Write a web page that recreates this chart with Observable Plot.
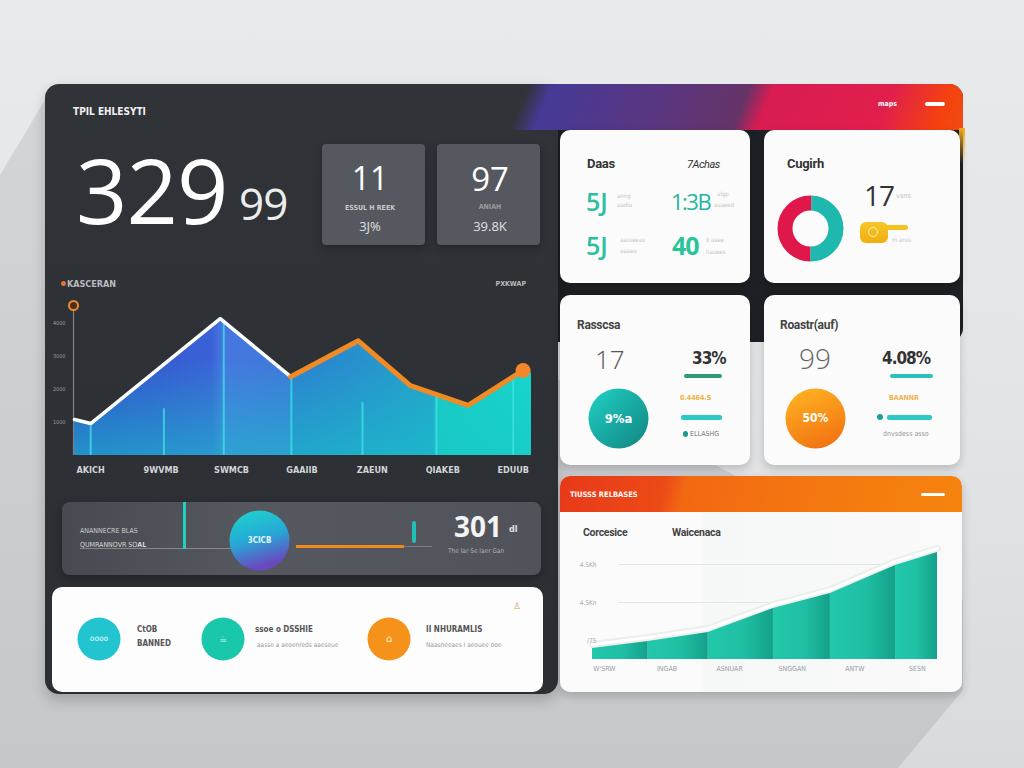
<!DOCTYPE html>
<html><head><meta charset="utf-8">
<script src="https://cdn.jsdelivr.net/npm/d3@7"></script>
<script src="https://cdn.jsdelivr.net/npm/@observablehq/plot@0.6"></script>
<style>
html,body{margin:0;padding:0;}
body{width:1024px;height:768px;overflow:hidden;position:relative;background:linear-gradient(180deg,#e9eaec 0%,#e3e4e6 55%,#d9dadc 100%);font-family:"Open Sans","Noto Sans",sans-serif;}
.abs{position:absolute;}
.t{position:absolute;line-height:1;white-space:nowrap;transform:translateY(-50%);}
.c{transform:translate(-50%,-50%);}
.r{transform:translate(-100%,-50%);}
.cond{font-family:"DejaVu Sans Condensed","Liberation Sans Narrow",Roboto,sans-serif;font-weight:bold;font-stretch:condensed;}
.rob{font-family:Roboto,"Noto Sans",sans-serif;}
.card{position:absolute;background:#fbfbfb;border-radius:10px;box-shadow:0 4px 10px rgba(0,0,0,0.18);}
.bar{position:absolute;border-radius:2px;}
.tiny{font-family:"DejaVu Sans Condensed",Roboto,sans-serif;font-size:6px;color:#c3c3c3;}
</style></head><body>
<svg width="0" height="0" style="position:absolute">
<defs>
 <linearGradient id="mainGrad" x1="0" y1="0" x2="1" y2="0">
  <stop offset="0" stop-color="#2e4fc9"/>
  <stop offset="0.30" stop-color="#3a62d6"/>
  <stop offset="0.326" stop-color="#4677df"/>
  <stop offset="0.47" stop-color="#3f78da"/>
  <stop offset="0.476" stop-color="#2c80d0"/>
  <stop offset="0.785" stop-color="#22a2cb"/>
  <stop offset="0.795" stop-color="#19cbc6"/>
  <stop offset="1" stop-color="#17d6ca"/>
 </linearGradient>
 <linearGradient id="mainShade" x1="0" y1="0" x2="0" y2="1">
  <stop offset="0.3" stop-color="#19c6c8" stop-opacity="0"/>
  <stop offset="1" stop-color="#19c6c8" stop-opacity="0.55"/>
 </linearGradient>
 <linearGradient id="segGrad" x1="0" y1="0" x2="1" y2="0">
  <stop offset="0" stop-color="#22c8ab"/>
  <stop offset="0.55" stop-color="#1fbfa4"/>
  <stop offset="1" stop-color="#14a08a"/>
 </linearGradient>
 <linearGradient id="gTealPurple" x1="0" y1="0" x2="0.3" y2="1">
  <stop offset="0" stop-color="#1ed6cc"/>
  <stop offset="0.55" stop-color="#26a8d6"/>
  <stop offset="1" stop-color="#6a48c0"/>
 </linearGradient>
 <linearGradient id="gTeal" x1="0" y1="0" x2="1" y2="1">
  <stop offset="0" stop-color="#22d2c6"/>
  <stop offset="0.5" stop-color="#18aaa2"/>
  <stop offset="1" stop-color="#108680"/>
 </linearGradient>
 <linearGradient id="gOrange" x1="0.2" y1="0" x2="0.6" y2="1">
  <stop offset="0" stop-color="#ffb222"/>
  <stop offset="1" stop-color="#f27412"/>
 </linearGradient>
</defs></svg>

<!-- background shadow -->
<div class="abs" style="left:0;top:0;width:1024px;height:768px;background:linear-gradient(180deg,#d6d7da,#c6c7ca);clip-path:polygon(45px 100px,0 175px,0 768px,898px 768px,963px 690px,963px 600px);"></div>

<!-- dark panels -->
<div class="abs" style="left:500px;top:84px;width:463px;height:258px;border-radius:14px;background:#1d2024;"></div>
<div class="abs" style="left:45px;top:84px;width:513px;height:610px;border-radius:14px;background:linear-gradient(180deg,#303338,#2b2e32);box-shadow:0 6px 14px rgba(0,0,0,0.2);"></div>
<div class="abs" style="left:500px;top:84px;width:463px;height:46px;border-top-right-radius:14px;background:linear-gradient(112deg,#303338 0%,#303338 6%,#463a96 11%,#5a3680 35%,#653467 52%,#d81c52 57%,#e11f4c 82%,#f3420f 94%,#f24a12 100%);"></div>
<div class="abs" style="left:959px;top:128px;width:6px;height:36px;background:linear-gradient(180deg,#f2a81a,rgba(242,168,26,0));"></div>
<div class="t cond" style="left:878px;top:104px;font-size:7px;color:#fff;">maps</div>
<div class="bar" style="left:925px;top:102px;width:20px;height:4px;background:#fff;"></div>

<!-- left panel header -->
<div class="t cond" style="left:73px;top:112px;font-size:10px;color:#f0f0f0;">TPIL EHLESYTI</div>
<div class="t" style="left:76px;top:189px;font-size:90px;font-weight:500;color:#fff;letter-spacing:-1px;">329</div>
<div class="t" style="left:239px;top:203px;font-size:44px;font-weight:400;color:#ececec;letter-spacing:-1px;">99</div>

<div class="abs" style="left:322px;top:144px;width:103px;height:101px;border-radius:4px;background:#55585e;box-shadow:0 3px 8px rgba(0,0,0,0.25);"></div>
<div class="abs" style="left:437px;top:144px;width:103px;height:101px;border-radius:4px;background:#55585e;box-shadow:0 3px 8px rgba(0,0,0,0.25);"></div>
<div class="t c" style="left:370px;top:178px;font-size:32px;font-weight:500;color:#fff;">11</div>
<div class="t c cond" style="left:370px;top:208px;font-size:7px;color:#c8c8c8;">ESSUL H REEK</div>
<div class="t c" style="left:370px;top:226px;font-size:13px;color:#e0e0e0;">3J%</div>
<div class="t c" style="left:490px;top:178px;font-size:33px;font-weight:500;color:#fff;">97</div>
<div class="t c cond" style="left:490px;top:207px;font-size:7px;color:#9a9ca0;">ANIAH</div>
<div class="t c" style="left:490px;top:226px;font-size:13px;color:#e0e0e0;">39.8K</div>

<!-- chart header -->
<div class="abs" style="left:61px;top:281px;width:5px;height:5px;border-radius:50%;background:#e8742a;"></div>
<div class="t cond" style="left:67px;top:284px;font-size:9px;color:#b8babe;">KASCERAN</div>
<div class="t r cond" style="left:526px;top:284px;font-size:7px;color:#b8babe;">PXKWAP</div>
<div id="mainChart" class="abs" style="left:40px;top:290px;"></div>

<!-- row panel -->
<div class="abs" style="left:62px;top:502px;width:479px;height:73px;border-radius:8px;background:linear-gradient(90deg,#474a50,#55585e 40%,#505359);box-shadow:0 3px 8px rgba(0,0,0,0.25);"></div>
<div class="t cond" style="left:80px;top:531px;font-size:7px;color:#cfcfcf;font-weight:normal;">ANANNECRE BLAS</div>
<div class="t cond" style="left:80px;top:545px;font-size:7px;color:#d8d8d8;font-weight:normal;">QUMRANNOVR SO<b>AL</b></div>
<div class="abs" style="left:80px;top:548px;width:152px;height:1px;background:#85888d;"></div>
<div class="abs" style="left:183px;top:502px;width:3px;height:47px;background:#22d0c2;"></div>
<div class="abs" style="left:296px;top:545px;width:108px;height:3px;background:#f08a1c;"></div>
<div class="abs" style="left:404px;top:546px;width:28px;height:1px;background:#7c7f84;"></div>
<div class="abs" style="left:412px;top:521px;width:4px;height:22px;border-radius:2px;background:#20c0b8;"></div>
<div class="t" style="left:454px;top:526px;font-size:28px;font-weight:700;color:#f4f4f4;">301</div>
<div class="t cond" style="left:509px;top:529px;font-size:9px;color:#e0e0e0;">dl</div>
<div class="t cond" style="left:448px;top:551px;font-size:6.5px;color:#b0b2b6;font-weight:normal;">The lar Se laer Gan</div>

<!-- white panel -->
<div class="abs" style="left:52px;top:587px;width:491px;height:105px;border-radius:10px;background:#fdfdfd;"></div>
<div class="t cond" style="left:137px;top:630px;font-size:8px;color:#555;">CtOB</div>
<div class="t cond" style="left:137px;top:644px;font-size:8px;color:#555;">BANNED</div>
<div class="t cond" style="left:255px;top:630px;font-size:8px;color:#555;">ssoe o DSSHIE</div>
<div class="t cond" style="left:257px;top:645px;font-size:6.5px;color:#999;font-weight:normal;">aasse a aeoenreds aaeseue</div>
<div class="t cond" style="left:426px;top:630px;font-size:8px;color:#555;">II NHURAMLIS</div>
<div class="t cond" style="left:426px;top:645px;font-size:6.5px;color:#999;font-weight:normal;">Naasneeaes I aeouee ooe</div>
<div class="t c" style="left:517px;top:605px;font-size:9px;color:#d9a040;">♙</div>

<!-- right cards -->
<div class="card" style="left:560px;top:130px;width:190px;height:153px;"></div>
<div class="card" style="left:764px;top:130px;width:196px;height:153px;"></div>
<div class="card" style="left:560px;top:295px;width:190px;height:170px;"></div>
<div class="card" style="left:764px;top:295px;width:196px;height:170px;"></div>

<div class="t rob" style="left:587px;top:163px;font-size:13px;font-weight:700;color:#333;letter-spacing:-0.3px;">Daas</div>
<div class="t rob" style="left:687px;top:164px;font-size:11px;font-style:italic;color:#333;letter-spacing:-0.5px;">7Achas</div>
<div class="t" style="left:586px;top:201px;font-size:25px;font-weight:600;color:#2cc0a0;">5J</div>
<div class="t tiny" style="left:617px;top:196px;">anng</div>
<div class="t tiny" style="left:617px;top:205px;">uadiu</div>
<div class="t" style="left:671px;top:201px;font-size:22px;font-weight:400;color:#1fb7a0;letter-spacing:-1.5px;">1:3B</div>
<div class="t tiny" style="left:717px;top:194px;">ulgp</div>
<div class="t tiny" style="left:714px;top:205px;">auaeed</div>
<div class="t" style="left:586px;top:245px;font-size:25px;font-weight:600;color:#2cc0a0;">5J</div>
<div class="t tiny" style="left:620px;top:240px;">aasseeas</div>
<div class="t tiny" style="left:620px;top:251px;">aaaeu</div>
<div class="t" style="left:672px;top:245px;font-size:25px;font-weight:700;color:#2bc49a;letter-spacing:-1px;">40</div>
<div class="t tiny" style="left:706px;top:240px;">II aaee</div>
<div class="t tiny" style="left:706px;top:252px;">hauees</div>

<div class="t rob" style="left:787px;top:163px;font-size:13px;font-weight:700;color:#333;letter-spacing:-0.3px;">Cugirh</div>
<div class="t" style="left:864px;top:195px;font-size:28px;font-weight:400;color:#333;letter-spacing:-1px;">17</div>
<div class="t tiny" style="left:896px;top:196px;font-size:7px;">vans</div>
<div class="abs" style="left:886px;top:225px;width:22px;height:5px;border-radius:3px;background:#f4c21c;"></div>
<div class="abs" style="left:860px;top:222px;width:28px;height:21px;border-radius:6px;background:linear-gradient(180deg,#f6c628,#f0ae10);"></div>
<div class="abs" style="left:868px;top:227px;width:8px;height:8px;border-radius:50%;border:1.5px solid #fff3c0;"></div>
<div class="t tiny" style="left:892px;top:240px;">m anss</div>

<div class="t rob" style="left:577px;top:325px;font-size:12px;font-weight:700;color:#444;letter-spacing:-0.3px;">Rasscsa</div>
<div class="t" style="left:595px;top:359px;font-size:26px;font-weight:300;color:#555;">17</div>
<div class="t cond" style="left:692px;top:358px;font-size:17px;color:#333;letter-spacing:-1px;">33%</div>
<div class="bar" style="left:684px;top:374px;width:38px;height:4px;background:#2d9a78;"></div>
<div class="t cond" style="left:680px;top:398px;font-size:7px;color:#f0b040;">0.4464.S</div>
<div class="bar" style="left:681px;top:415px;width:41px;height:5px;background:#2cc8c4;"></div>
<div class="abs" style="left:683px;top:431px;width:5px;height:6px;border-radius:50%;background:#1a9a8a;"></div>
<div class="t cond" style="left:690px;top:434px;font-size:7px;color:#777;font-weight:normal;">ELLASHG</div>

<div class="t rob" style="left:780px;top:325px;font-size:12px;font-weight:700;color:#444;letter-spacing:-0.3px;">Roastr(auf)</div>
<div class="t" style="left:799px;top:358px;font-size:28px;font-weight:300;color:#666;">99</div>
<div class="t cond" style="left:882px;top:358px;font-size:17px;color:#333;letter-spacing:-1px;">4.08%</div>
<div class="bar" style="left:890px;top:374px;width:43px;height:4px;background:#2bbfbb;"></div>
<div class="t cond" style="left:889px;top:398px;font-size:7px;color:#f0b050;">BAANNR</div>
<div class="abs" style="left:877px;top:414px;width:6px;height:6px;border-radius:50%;background:#1aa09a;"></div>
<div class="bar" style="left:887px;top:415px;width:45px;height:5px;background:#2cc8c4;"></div>
<div class="t cond" style="left:883px;top:434px;font-size:7px;color:#999;font-weight:normal;">dnvsdess asso</div>

<!-- bottom right card -->
<div class="abs" style="left:560px;top:476px;width:402px;height:216px;border-radius:10px;background:linear-gradient(90deg,#fbfbfb 35%,#f6f7f7 36%,#fafafa);box-shadow:0 4px 10px rgba(0,0,0,0.18);overflow:hidden;">
 <div class="abs" style="left:0;top:0;width:402px;height:36px;background:linear-gradient(104deg,#e8391a 0%,#ec4a16 26%,#f26812 31%,#f47a10 70%,#f6840e 100%);"></div>
</div>
<div class="t cond" style="left:570px;top:495px;font-size:7.5px;color:#fff;">TIUSSS RELBASES</div>
<div class="bar" style="left:921px;top:493px;width:24px;height:3px;background:#fff;"></div>
<div class="t rob" style="left:583px;top:533px;font-size:10.5px;font-weight:700;color:#444;letter-spacing:-0.3px;">Corcesice</div>
<div class="t rob" style="left:672px;top:533px;font-size:10.5px;font-weight:700;color:#444;letter-spacing:-0.3px;">Waicenaca</div>
<div id="brChart" class="abs" style="left:560px;top:540px;"></div>

<script>
// ---------- data ----------
const mainX = [-0.23, 0, 1.84, 2.84, 3.8, 4.54, 5.36, 6.14];
const mainY = [1090, 970, 4150, 2390, 3480, 2120, 1520, 2580];
const mainAreaX = [-0.23, 0, 1.84, 2.84, 3.8, 4.54, 5.36, 6.14, 6.26];
const mainAreaY = [1090, 970, 4150, 2390, 3480, 2120, 1520, 2580, 2500];
const mainXLabels = ["AKICH", "9WVMB", "SWMCB", "GAAIIB", "ZAEUN", "QIAKEB", "EDUUB"];
const mainYTicks = [1000, 2000, 3000, 4000];
const sepX = [0, 1.04, 1.89, 2.85, 3.86, 4.91, 6.0];
const sepTop = [970, 1420, 4060, 2390, 1600, 1850, 2390];

const brX = [-0.19, 0.70, 1.66, 2.70, 3.61, 4.65, 5.32];
const brY = [5.8, 9.5, 14.2, 26.8, 34.7, 49.5, 56.3];
const brXLabels = ["W'SRW", "INGAB", "ASNUAR", "SNGGAN", "ANTW", "SESN"];
const brYTicks = [10, 30, 50];
const brYLabels = ["/75", "4.5Kn", "4.5Kh"];

const donutShares = [50, 50];
const badgeLabels = ["3CICB", "9%a", "50%", "OOOO", "☕", "⌂"];

// ---------- helpers ----------
function place(el, left, top) {
  el.style.position = "absolute";
  el.style.left = left + "px";
  el.style.top = top + "px";
  document.body.appendChild(el);
}

// ---------- main area chart ----------
const mainXDomain = [mainAreaX[0], mainAreaX[mainAreaX.length - 1]];
const mainYDomain = [0, 4550];
const mainPts = mainX.map((x, i) => ({x, y: mainY[i], i}));
const mainArea = mainAreaX.map((x, i) => ({x, y: mainAreaY[i]}));
const seps = sepX.map((x, i) => ({x, top: sepTop[i]}));
const mainPlot = Plot.plot({
  width: 510, height: 190,
  marginLeft: 34, marginRight: 19, marginTop: 15, marginBottom: 25,
  style: {background: "transparent", overflow: "visible", fontFamily: "'DejaVu Sans Condensed', Roboto, sans-serif"},
  x: {domain: mainXDomain, axis: null},
  y: {domain: mainYDomain, axis: null},
  marks: [
    Plot.areaY(mainArea, {x: "x", y1: () => 0, y2: "y", fill: "url(#mainGrad)"}),
    Plot.areaY(mainArea, {x: "x", y1: () => 0, y2: "y", fill: "url(#mainShade)"}),
    Plot.ruleX(seps, {x: "x", y1: () => 0, y2: "top", stroke: "#3fe3e6", strokeWidth: 2, strokeOpacity: 0.75}),
    Plot.ruleX([mainXDomain[0]], {x: d => d, y1: () => 0, y2: () => mainYDomain[1], stroke: "#7d8086", strokeWidth: 1.2, dx: -1}),
    Plot.line(mainPts.filter(d => d.i <= 3), {x: "x", y: "y", stroke: "#ffffff", strokeWidth: 3.5, strokeLinejoin: "round"}),
    Plot.line(mainPts.filter(d => d.i >= 3), {x: "x", y: "y", stroke: "#f08a24", strokeWidth: 5, strokeLinejoin: "round", strokeLinecap: "round"}),
    Plot.dot(mainPts.slice(-1), {x: "x", y: "y", r: 7.5, fill: "#f5862a"}),
    Plot.dot([mainYDomain[1]], {x: () => mainXDomain[0], y: d => d, r: 4.5, fill: "#4a2e1c", stroke: "#f08a2c", strokeWidth: 2, dx: -1}),
    Plot.text(mainYTicks, {x: () => mainXDomain[0], y: d => d, text: d => d3.format("d")(d), textAnchor: "end", dx: -9, fontSize: 5.5, fill: "#9a9da2"}),
    Plot.text(mainXLabels, {x: (d, i) => i, y: () => 0, text: d => d, dy: 15, fontSize: 9, fontWeight: "bold", fill: "#d2d4d8"})
  ]
});
document.getElementById("mainChart").appendChild(mainPlot);

// ---------- bottom-right stepped area chart ----------
const brPts = brX.map((x, i) => ({x, y: brY[i]}));
const brSegs = d3.pairs(brPts).flatMap(([a, b], s) => [{...a, s}, {...b, s}]);
const brXDomain = [brX[0], brX[brX.length - 1]];
const brPlot = Plot.plot({
  width: 402, height: 139,
  marginLeft: 32, marginRight: 25, marginTop: 5, marginBottom: 20,
  style: {background: "transparent", overflow: "visible", fontFamily: "'DejaVu Sans Condensed', Roboto, sans-serif"},
  x: {domain: brXDomain, axis: null},
  y: {domain: [0, 60], axis: null},
  marks: [
    Plot.ruleY(brYTicks, {y: d => d, stroke: "#e2e4e5", strokeWidth: 1, insetLeft: 26}),
    Plot.line(brPts, {x: "x", y: "y", stroke: "#eceeee", strokeWidth: 7, dy: -4, strokeLinejoin: "round"}),
    Plot.line(brPts, {x: "x", y: "y", stroke: "#ffffff", strokeWidth: 3, dy: -4, strokeLinejoin: "round"}),
    Plot.areaY(brSegs, {x: "x", y1: () => 0, y2: "y", z: "s", fill: "url(#segGrad)"}),
    Plot.text(brYTicks, {x: () => brXDomain[0], y: d => d, text: (d, i) => brYLabels[i], textAnchor: "end", dx: 4, fontSize: 6.5, fill: "#a3a7a8"}),
    Plot.text(brXLabels, {x: (d, i) => i, y: () => 0, text: d => d, dy: 9, fontSize: 7, fill: "#9a9c9d"})
  ]
});
document.getElementById("brChart").appendChild(brPlot);

// ---------- donut ----------
const dR = 25.5, dC = 2 * Math.PI * dR;
const donutColors = ["#e0174a", "#1eb8ae"];
const donutTotal = d3.sum(donutShares);
let cum = 0;
const donutMarks = donutShares.map((v, i) => {
  const f = v / donutTotal, start = cum;
  cum += f;
  return Plot.dot([v], {
    frameAnchor: "middle", r: dR, fill: "none", stroke: donutColors[i], strokeWidth: 15,
    strokeDasharray: `${f * dC} ${dC - f * dC}`,
    strokeDashoffset: -(dC / 4 + start * dC)
  });
}).reverse();
const donut = Plot.plot({width: 80, height: 80, margin: 0, style: {background: "transparent", overflow: "visible"}, marks: donutMarks});
place(donut, 810 - 40, 228 - 40);

// ---------- badges (circles) ----------
function badge(cx, cy, r, fill, label, fontSize, textFill) {
  const size = 2 * r + 4;
  const p = Plot.plot({
    width: size, height: size, margin: 0,
    style: {background: "transparent", overflow: "visible", fontFamily: "'DejaVu Sans Condensed', Roboto, sans-serif"},
    marks: [
      Plot.dot([label], {frameAnchor: "middle", r, fill}),
      Plot.text([label], {frameAnchor: "middle", text: d => d, fill: textFill || "#ffffff", fontSize, fontWeight: "bold"})
    ]
  });
  place(p, cx - size / 2, cy - size / 2);
}
badge(259, 540, 30, "url(#gTealPurple)", badgeLabels[0], 8, "#e0f4ff");
badge(618, 418, 30, "url(#gTeal)", badgeLabels[1], 13);
badge(815, 418, 30, "url(#gOrange)", badgeLabels[2], 12);
badge(98, 638, 21.5, "#22c4d0", badgeLabels[3], 6, "#bff2f6");
badge(222, 638, 21.5, "#19c8aa", badgeLabels[4], 10, "#c6f6ec");
badge(388, 638, 21.5, "#f5921a", badgeLabels[5], 10, "#ffe0b0");
</script>
</body></html>
